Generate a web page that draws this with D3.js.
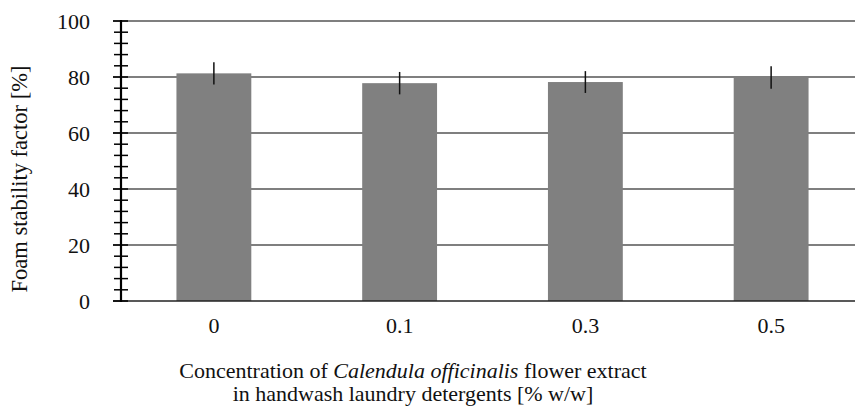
<!DOCTYPE html>
<html>
<head>
<meta charset="utf-8">
<script src="https://cdn.jsdelivr.net/npm/d3@7"></script>
<style>
html,body{margin:0;padding:0;background:#fff;overflow:hidden;}
svg{display:block;font-family:"Liberation Serif","DejaVu Serif",serif;}
</style>
</head>
<body>
<svg id="chart" width="855" height="408"></svg>
<script>
const categories = ["0", "0.1", "0.3", "0.5"];
const values = [81.3, 77.8, 78.2, 79.8];
const errors = [4.0, 4.0, 3.9, 4.0];
const yTicks = [0, 20, 40, 60, 80, 100];
const yMinorTicks = d3.range(0, 101, 4);

(function () {
const svg = d3.select("#chart");
const mLeft = 121, mRight = 864, mTop = 21, mBottom = 301;
const fs = 22;

const x = d3.scaleBand().domain(categories).range([mLeft, mRight]).padding(0);
const y = d3.scaleLinear().domain([0, 100]).range([mBottom, mTop]);
const barW = x.bandwidth() * 0.403;

// gridlines
svg.append("g").selectAll("line").data(yTicks.filter(d => d > 0)).join("line")
  .attr("x1", mLeft - 8).attr("x2", mRight)
  .attr("y1", d => y(d)).attr("y2", d => y(d))
  .attr("stroke", "#555").attr("stroke-width", 1.3);

// bars
svg.append("g").selectAll("rect").data(values).join("rect")
  .attr("x", (d, i) => x(categories[i]) + x.bandwidth() / 2 - barW / 2)
  .attr("y", d => y(d))
  .attr("width", barW)
  .attr("height", d => y(0) - y(d))
  .attr("fill", "#808080");

// zero line
svg.append("line").attr("x1", mLeft - 8).attr("x2", mRight)
  .attr("y1", y(0)).attr("y2", y(0)).attr("stroke", "#222").attr("stroke-width", 1.5);

// error bars
svg.append("g").selectAll("line").data(values).join("line")
  .attr("x1", (d, i) => x(categories[i]) + x.bandwidth() / 2)
  .attr("x2", (d, i) => x(categories[i]) + x.bandwidth() / 2)
  .attr("y1", (d, i) => y(d + errors[i]))
  .attr("y2", (d, i) => y(d - errors[i]))
  .attr("stroke", "#111").attr("stroke-width", 1.5);

// y axis
svg.append("line").attr("x1", mLeft).attr("x2", mLeft)
  .attr("y1", y(100) - 1).attr("y2", y(0) + 1).attr("stroke", "#000").attr("stroke-width", 2.2);
svg.append("g").selectAll("line").data(yMinorTicks).join("line")
  .attr("x1", d => yTicks.includes(d) ? mLeft - 8 : mLeft - 7)
  .attr("x2", mLeft + 7)
  .attr("y1", d => y(d)).attr("y2", d => y(d))
  .attr("stroke", "#000").attr("stroke-width", 1.5);

svg.append("g").selectAll("text").data(yTicks).join("text")
  .attr("x", 90).attr("y", d => y(d)).attr("dy", "0.35em")
  .attr("text-anchor", "end").attr("font-size", fs).attr("fill", "#111")
  .text(d => d);

// x labels
svg.append("g").selectAll("text").data(categories).join("text")
  .attr("x", d => x(d) + x.bandwidth() / 2).attr("y", 333)
  .attr("text-anchor", "middle").attr("font-size", fs).attr("fill", "#111")
  .text(d => d);

// axis titles
svg.append("text")
  .attr("transform", "translate(27,179) rotate(-90)")
  .attr("text-anchor", "middle").attr("font-size", 22.5).attr("fill", "#111")
  .text("Foam stability factor [%]");

const t1 = svg.append("text").attr("x", 413).attr("y", 378)
  .attr("text-anchor", "middle").attr("font-size", fs).attr("fill", "#111");
t1.append("tspan").text("Concentration of ");
t1.append("tspan").attr("font-style", "italic").text("Calendula officinalis");
t1.append("tspan").text(" flower extract");
svg.append("text").attr("x", 413).attr("y", 401)
  .attr("text-anchor", "middle").attr("font-size", fs).attr("fill", "#111")
  .text("in handwash laundry detergents [% w/w]");
})();
</script>
</body>
</html>
